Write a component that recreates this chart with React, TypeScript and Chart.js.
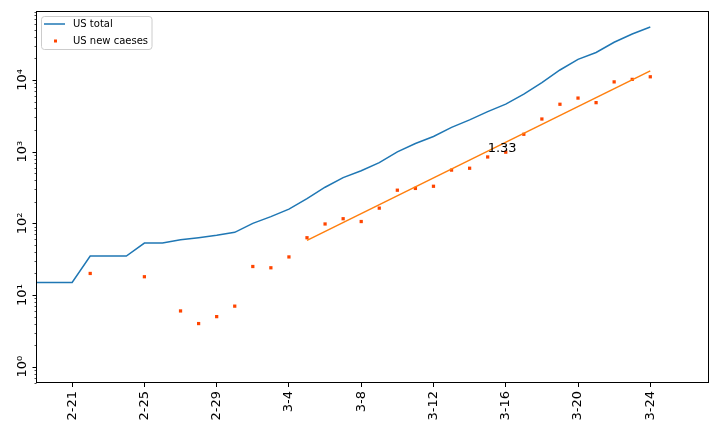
import React, { useEffect, useRef } from 'react';
import { Chart, registerables } from 'chart.js';

Chart.register(...registerables);

// Day index: 0 = 2-21 (2020)
const totalDays = [-2, -1, 0, 1, 2, 3, 4, 5, 6, 7, 8, 9, 10, 11, 12, 13, 14, 15, 16, 17, 18, 19, 20, 21, 22, 23, 24, 25, 26, 27, 28, 29, 30, 31, 32];
const totalCases = [15, 15, 15, 35, 35, 35, 53, 53, 59, 63, 68, 75, 100, 124, 158, 221, 319, 435, 541, 704, 994, 1301, 1630, 2183, 2770, 3613, 4596, 6344, 9197, 13779, 19367, 24192, 33592, 43781, 54856];

const newDays = [1, 4, 6, 7, 8, 9, 10, 11, 12, 13, 14, 15, 16, 17, 18, 19, 20, 21, 22, 23, 24, 25, 26, 27, 28, 29, 30, 31, 32];
const newCases = [20, 18, 6, 4, 5, 7, 25, 24, 34, 63, 98, 116, 106, 163, 290, 307, 329, 553, 587, 843, 983, 1748, 2853, 4582, 5588, 4825, 9400, 10189, 11075];

const fitDays = [13, 32];
const fitValues = [58, 13400];

const annotationDay = 23;
const annotationValue = 1000;
const annotationText = '1.33';

const xTickDays = [0, 4, 8, 12, 16, 20, 24, 28, 32];
const xTickLabels = ['2-21', '2-25', '2-29', '3-4', '3-8', '3-12', '3-16', '3-20', '3-24'];

const yMajorTicks = [1, 10, 100, 1000, 10000];
const yTickLabels = ['10\u2070', '10\u00b9', '10\u00b2', '10\u00b3', '10\u2074'];

const legendLabels = ['US total', 'US new caeses'];

const BLUE = '#1f77b4';
const ORANGE = '#ff7f0e';
const RED = '#ff4500';
const FONT = '"DejaVu Sans", sans-serif';

const decorPlugin = {
  id: 'mplDecor',
  afterDraw(chart: any) {
    const { ctx, chartArea: a, scales } = chart;
    const ys = scales.y;
    const xs = scales.x;
    ctx.save();
    // frame
    ctx.strokeStyle = '#000';
    ctx.lineWidth = 1;
    const L = Math.round(a.left) + 0.5;
    const T = Math.round(a.top) + 0.5;
    const R = Math.round(a.right) - 0.5;
    const B = Math.round(a.bottom) - 0.5;
    ctx.strokeRect(L, T, R - L, B - T);

    // y ticks (major + minor)
    for (let e = -1; e <= 4; e++) {
      for (let m = 1; m <= 9; m++) {
        const v = m * Math.pow(10, e);
        if (v < ys.min || v > ys.max) continue;
        const py = Math.round(ys.getPixelForValue(v)) + 0.5;
        const len = m === 1 ? 4 : 2;
        ctx.lineWidth = m === 1 ? 1 : 0.7;
        ctx.beginPath();
        ctx.moveTo(L, py);
        ctx.lineTo(L - len, py);
        ctx.stroke();
      }
    }

    // y tick labels, rotated
    ctx.fillStyle = '#000';
    ctx.font = `13px ${FONT}`;
    ctx.textAlign = 'center';
    ctx.textBaseline = 'alphabetic';
    yMajorTicks.forEach((v, i) => {
      const py = ys.getPixelForValue(v);
      ctx.save();
      ctx.translate(26, py);
      ctx.rotate(-Math.PI / 2);
      ctx.fillText(yTickLabels[i], 0, 0);
      ctx.restore();
    });

    // annotation
    ctx.font = `13px ${FONT}`;
    ctx.textAlign = 'left';
    ctx.textBaseline = 'alphabetic';
    ctx.fillText(annotationText, xs.getPixelForValue(annotationDay), ys.getPixelForValue(annotationValue));

    // legend
    const lx = 41.5, ly = 16.5, lw = 110.5, lh = 33;
    ctx.beginPath();
    ctx.roundRect(lx, ly, lw, lh, 3);
    ctx.fillStyle = 'rgba(255,255,255,0.8)';
    ctx.fill();
    ctx.strokeStyle = '#cccccc';
    ctx.lineWidth = 1;
    ctx.stroke();

    ctx.strokeStyle = BLUE;
    ctx.lineWidth = 1.5;
    ctx.beginPath();
    ctx.moveTo(44, 24);
    ctx.lineTo(65, 24);
    ctx.stroke();

    ctx.fillStyle = RED;
    ctx.fillRect(54, 39.5, 3, 3);

    ctx.fillStyle = '#000';
    ctx.font = `10px ${FONT}`;
    ctx.textAlign = 'left';
    ctx.textBaseline = 'middle';
    ctx.fillText(legendLabels[0], 73, 24);
    ctx.fillText(legendLabels[1], 73, 41);

    ctx.restore();
  },
};

export default function App() {
  const ref = useRef<HTMLCanvasElement | null>(null);

  useEffect(() => {
    document.body.style.margin = '0';
    const canvas = ref.current;
    if (!canvas) return;
    const chart = new Chart(canvas, {
      type: 'line',
      data: {
        datasets: [
          {
            label: legendLabels[0],
            data: totalDays.map((d, i) => ({ x: d, y: totalCases[i] })),
            borderColor: BLUE,
            borderWidth: 1.5,
            pointRadius: 0,
            tension: 0,
            fill: false,
            order: 3,
          },
          {
            label: legendLabels[1],
            data: newDays.map((d, i) => ({ x: d, y: newCases[i] })),
            showLine: false,
            pointStyle: 'rect',
            pointRadius: 2.3,
            pointBackgroundColor: RED,
            pointBorderWidth: 0,
            borderColor: RED,
            order: 2,
          },
          {
            label: 'fit',
            data: fitDays.map((d, i) => ({ x: d, y: fitValues[i] })),
            borderColor: ORANGE,
            borderWidth: 1.5,
            pointRadius: 0,
            tension: 0,
            fill: false,
            order: 1,
          },
        ],
      },
      options: {
        responsive: false,
        animation: false,
        devicePixelRatio: 1,
        layout: { padding: { left: 36, top: 11, right: 11, bottom: 0 } },
        plugins: {
          legend: { display: false },
          tooltip: { enabled: false },
        },
        scales: {
          x: {
            type: 'linear',
            min: -2,
            max: 35.25,
            afterFit: (s: any) => {
              s.height = 49;
            },
            afterBuildTicks: (s: any) => {
              s.ticks = xTickDays.map((v) => ({ value: v }));
            },
            grid: {
              display: true,
              drawOnChartArea: false,
              drawTicks: true,
              tickLength: 4,
              tickColor: '#000',
              tickWidth: 1,
            },
            border: { display: false },
            ticks: {
              autoSkip: false,
              minRotation: 90,
              maxRotation: 90,
              padding: 4,
              color: '#000',
              font: { family: 'DejaVu Sans', size: 13 },
              callback: (value: any) => {
                const i = xTickDays.indexOf(Number(value));
                return i >= 0 ? xTickLabels[i] : '';
              },
            },
          },
          y: {
            type: 'logarithmic',
            display: false,
            min: 0.593,
            max: 91600,
          },
        },
      },
      plugins: [decorPlugin],
    });
    return () => chart.destroy();
  }, []);

  return <canvas ref={ref} width={720} height={432} style={{ display: 'block' }} />;
}
